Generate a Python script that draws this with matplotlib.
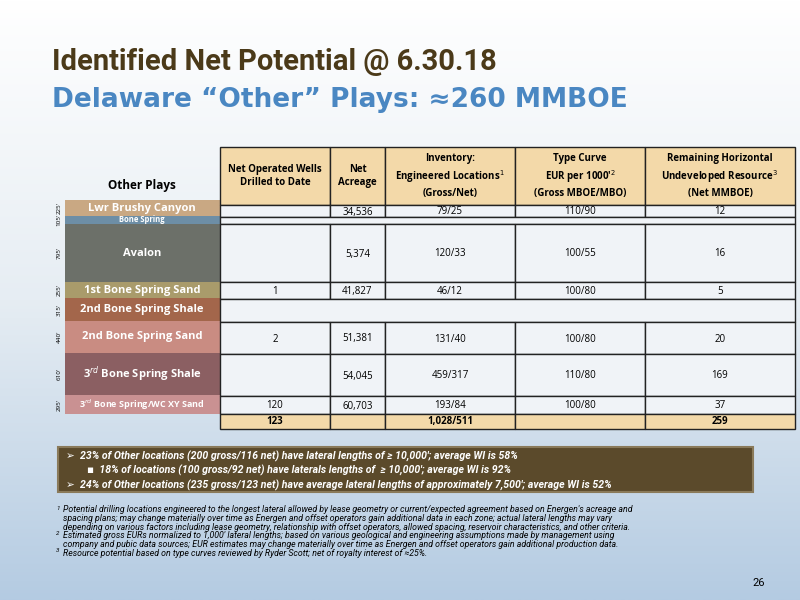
import matplotlib
matplotlib.use("Agg")
import matplotlib.pyplot as plt
import numpy as np
from matplotlib.patches import Rectangle
from matplotlib.colors import LinearSegmentedColormap

plays = ["Lwr Brushy Canyon", "Bone Spring", "Avalon", "1st Bone Spring Sand",
         "2nd Bone Spring Shale", "2nd Bone Spring Sand", "3$^{rd}$ Bone Spring Shale",
         "3$^{rd}$ Bone Spring/WC XY Sand"]
thickness = ["225'", "105'", "795'", "255'", "315'", "440'", "610'", "295'"]
wells = ["", "", "", "1", "", "2", "", "120"]
acreage = ["34,536", "", "5,374", "41,827", "", "51,381", "54,045", "60,703"]
inventory = ["79/25", "", "120/33", "46/12", "", "131/40", "459/317", "193/84"]
eur = ["110/90", "", "100/55", "100/80", "", "100/80", "110/80", "100/80"]
resource = ["12", "", "16", "5", "", "20", "169", "37"]
totals = ["123", "", "1,028/511", "", "259"]
headers = ["Net Operated Wells\nDrilled to Date", "Net\nAcreage",
           "Inventory:\nEngineered Locations$^1$\n(Gross/Net)",
           "Type Curve\nEUR per 1000'$^2$\n(Gross MBOE/MBO)",
           "Remaining Horizontal\nUndeveloped Resource$^3$\n(Net MMBOE)"]
bullets = ["➢  23% of Other locations (200 gross/116 net) have lateral lengths of ≥ 10,000'; average WI is 58%",
           "        ▪  18% of locations (100 gross/92 net) have laterals lengths of  ≥ 10,000'; average WI is 92%",
           "➢  24% of Other locations (235 gross/123 net) have average lateral lengths of approximately 7,500'; average WI is 52%"]
footnotes = [
    ("1", "Potential drilling locations engineered to the longest lateral allowed by lease geometry or current/expected agreement based on Energen's acreage and\nspacing plans; may change materially over time as Energen and offset operators gain additional data in each zone; actual lateral lengths may vary\ndepending on various factors including lease geometry, relationship with offset operators, allowed spacing, reservoir characteristics, and other criteria."),
    ("2", "Estimated gross EURs normalized to 1,000' lateral lengths; based on various geological and engineering assumptions made by management using\ncompany and pubic data sources; EUR estimates may change materially over time as Energen and offset operators gain additional production data."),
    ("3", "Resource potential based on type curves reviewed by Ryder Scott; net of royalty interest of ≈25%."),
]

strat_colors = ["#c9a883", "#6d8ea6", "#6c7069", "#a99b6b", "#a3664b", "#c98c82", "#8b5f62", "#c99192"]
strat_edges = [200, 216, 224, 282, 298, 321, 353, 395, 414]
row_edges = [205, 217, 224, 282, 299, 322, 354, 396, 414, 429]
col_edges = [220, 330, 385, 515, 645, 795]

NARROW = ["Roboto", "DejaVu Sans"]
BODY = ["Open Sans", "DejaVu Sans"]

fig = plt.figure(figsize=(8, 6), dpi=100)
ax = fig.add_axes([0, 0, 1, 1])
ax.set_xlim(0, 800); ax.set_ylim(600, 0); ax.axis("off")

grad = np.linspace(0, 1, 256)[:, None]
cm = LinearSegmentedColormap.from_list("bg", ["#ffffff", "#e6edf3", "#b4cbe2"])
ax.imshow(grad, cmap=cm, extent=[0, 800, 600, 0], aspect="auto", zorder=0)

ax.text(52, 62, "Identified Net Potential @ 6.30.18", fontsize=21, color="#4b3a19",
        family=NARROW, fontweight="bold", va="center")
ax.text(52, 100, "Delaware \u201cOther\u201d Plays: \u2248260 MMBOE", fontsize=19,
        color="#4a87c2", family=["DejaVu Sans"], fontweight="bold", va="center")

ax.text(142, 186, "Other Plays", fontsize=8.5, fontweight="bold", ha="center", va="center", family=BODY)

for i, name in enumerate(plays):
    y0, y1 = strat_edges[i], strat_edges[i + 1]
    ax.add_patch(Rectangle((65, y0), 155, y1 - y0, facecolor=strat_colors[i], edgecolor="none", zorder=2))
    fs = 5.5 if i == 1 else (6.5 if i == 7 else 8)
    ax.text(142, (y0 + y1) / 2, name, fontsize=fs, fontweight="bold", color="white",
            ha="center", va="center", family=BODY, zorder=3)
    ax.text(59, (y0 + y1) / 2, thickness[i], fontsize=4.5, rotation=90, ha="center",
            va="center", family=BODY, zorder=3)

for j, h in enumerate(headers):
    x0, x1 = col_edges[j], col_edges[j + 1]
    ax.add_patch(Rectangle((x0, 147), x1 - x0, 58, facecolor="#f3d9a9", edgecolor="#222222", lw=1, zorder=2))
    ax.text((x0 + x1) / 2, 176, h, fontsize=7, fontweight="bold", ha="center", va="center",
            family=BODY, linespacing=1.35, zorder=3)

cols = [wells, acreage, inventory, eur, resource]
for i in range(len(plays)):
    y0, y1 = row_edges[i], row_edges[i + 1]
    if all(c[i] == "" for c in cols):
        ax.add_patch(Rectangle((col_edges[0], y0), col_edges[-1] - col_edges[0], y1 - y0,
                               facecolor="#f0f3f7", edgecolor="#222222", lw=1, zorder=2))
        continue
    for j, c in enumerate(cols):
        x0, x1 = col_edges[j], col_edges[j + 1]
        ax.add_patch(Rectangle((x0, y0), x1 - x0, y1 - y0, facecolor="#f0f3f7",
                               edgecolor="#222222", lw=1, zorder=2))
        ax.text((x0 + x1) / 2, (y0 + y1) / 2 + 1, c[i], fontsize=7, ha="center", va="center",
                family=BODY, zorder=3)
y0, y1 = row_edges[-2], row_edges[-1]
for j, t in enumerate(totals):
    x0, x1 = col_edges[j], col_edges[j + 1]
    ax.add_patch(Rectangle((x0, y0), x1 - x0, y1 - y0, facecolor="#f3d9a9", edgecolor="#222222", lw=1, zorder=2))
    ax.text((x0 + x1) / 2, (y0 + y1) / 2, t, fontsize=7, fontweight="bold", ha="center",
            va="center", family=BODY, zorder=3)

ax.add_patch(Rectangle((58, 447), 695, 45, facecolor="#5b4a2b", edgecolor="#8a7a5a", lw=1.5, zorder=2))
for k, b in enumerate(bullets):
    ax.text(66, 456 + k * 14.5, b, fontsize=7.6, fontweight="bold", style="italic", color="white",
            va="center", family=["Roboto", "DejaVu Sans"], zorder=3)

y = 510
for num, txt in footnotes:
    ax.text(56, y - 2, num, fontsize=4.5, style="italic", va="center", family=NARROW)
    lines = txt.split("\n")
    for li, line in enumerate(lines):
        ax.text(63, y + li * 8.6, line, fontsize=6.3, style="italic", va="center", family=NARROW)
    y += 8.6 * len(lines)

ax.text(752, 583, "26", fontsize=8, va="center", family=NARROW)

fig.savefig("out.png", dpi=100)
